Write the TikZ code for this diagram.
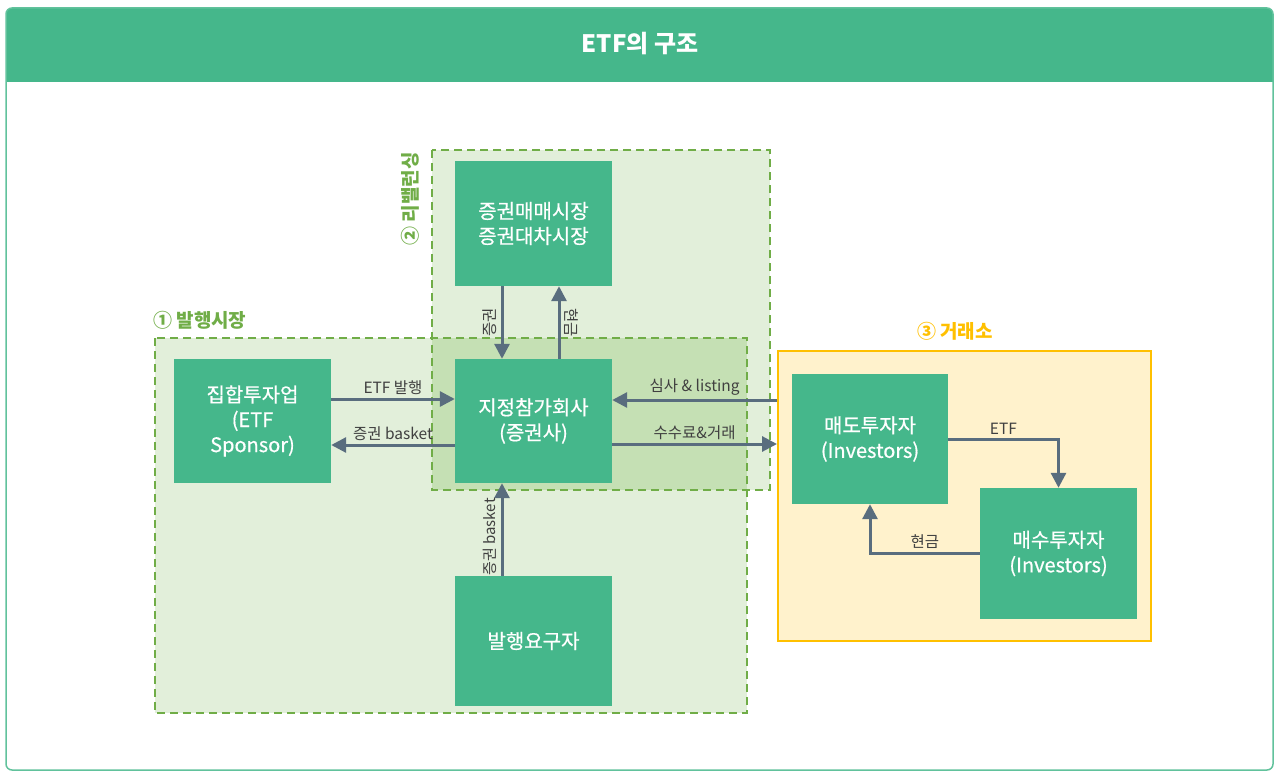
\documentclass[tikz,border=0pt]{standalone}
\usepackage{fontspec}
\setmainfont{Noto Sans CJK KR}
\newfontfamily\medfont[FakeBold=0.6]{Noto Sans CJK KR}
\usetikzlibrary{arrows.meta,calc}
\definecolor{boxgreen}{RGB}{69,183,139}
\definecolor{lightgreen}{RGB}{226,239,218}
\definecolor{midgreen}{RGB}{197,224,180}
\definecolor{dashgreen}{RGB}{112,173,71}
\definecolor{arrowc}{RGB}{89,109,126}
\definecolor{lightyellow}{RGB}{255,242,204}
\definecolor{gold}{RGB}{255,192,0}
\definecolor{labelc}{RGB}{64,64,64}
\begin{document}
\begin{tikzpicture}[x=1pt,y=-1pt,
  box/.style={fill=boxgreen, text=white, font=\medfont\fontsize{20}{25}\selectfont, align=center, inner sep=0pt, minimum width=157pt},
  flow/.style={draw=arrowc, line width=3pt, -{Triangle[length=15pt,width=15pt]}},
  lab/.style={text=labelc, font=\fontsize{15.5}{18}\selectfont, inner sep=1pt},
  rlab/.style={lab, inner sep=4pt},
  region/.style={inner sep=0pt},
  dashb/.style={draw=dashgreen, line width=2pt, dash pattern=on 8pt off 5pt},
  rlabel/.style={font=\fontsize{19}{22}\selectfont\bfseries, inner sep=0pt}]
\useasboundingbox (0,0) rectangle (1276,773);
% frame
\fill[white, rounded corners=6pt] (6,8) rectangle (1273,770);
\fill[boxgreen, rounded corners=6pt] (6,8) rectangle (1273,82);
\fill[boxgreen] (6,50) rectangle (1273,82);
\draw[boxgreen!85, line width=1.5pt, rounded corners=6pt] (6,8) rectangle (1273,770);
\node[text=white, font=\fontsize{24}{28}\selectfont\bfseries] (title) at (640,44) {ETF의 구조};
% regions
\node[region, fill=lightgreen, minimum width=592pt, minimum height=375pt] (issue) at (451,525.5) {};
\node[region, fill=lightgreen, minimum width=338pt, minimum height=340pt] (rebal) at (601,320) {};
\fill[midgreen] (432,338) rectangle (747,490);
\draw[dashb] (155,338) rectangle (747,713);
\draw[dashb] (432,150) rectangle (770,490);
\node[region, fill=lightyellow, draw=gold, line width=2pt, minimum width=373pt, minimum height=290pt] (exch) at (964.5,496) {};
% region labels
\node[rlabel, text=dashgreen, anchor=west] (l1) at (153,320) {① 발행시장};
\node[rlabel, text=dashgreen, rotate=90] (l2) at (410,199) {② 리밸런싱};
\node[rlabel, text=gold] (l3) at (955,331) {③ 거래소};
% boxes
\node[box, minimum height=125pt] (mkt) at (533.5,223.5) {증권매매시장\\증권대차시장};
\node[box, minimum height=124pt] (sponsor) at (252.5,421) {집합투자업\\(ETF\\Sponsor)};
\node[box, minimum height=124pt] (ap) at (533.5,421) {지정참가회사\\(증권사)};
\node[box, minimum height=130pt] (req) at (533.5,641) {발행요구자};
\node[box, minimum width=156pt, minimum height=130pt] (seller) at (870,439) {매도투자자\\(Investors)};
\node[box, minimum height=131pt] (buyer) at (1058.5,553.5) {매수투자자\\(Investors)};
% arrows
\draw[flow] ([yshift=22pt]sponsor.east) -- ([yshift=22pt]ap.west) node[lab, midway, above=2pt] {ETF 발행};
\draw[flow] ([yshift=-24pt]ap.west) -- ([yshift=-24pt]sponsor.east) node[lab, midway, above=2pt] {증권 basket};
\draw[flow] ([xshift=-31.5pt]mkt.south) -- ([xshift=-31.5pt]ap.north) node[rlab, midway, rotate=90, anchor=south] {증권};
\draw[flow] ([xshift=25.5pt]ap.north) -- ([xshift=25.5pt]mkt.south) node[rlab, midway, rotate=-90, anchor=south] {현금};
\coordinate (pl) at ([yshift=21pt]ap.east);
\coordinate (pf) at ([yshift=-23pt]ap.east);
\draw[flow] (exch.west |- pl) -- (pl) node[lab, midway, above=2pt] {심사 \& listing};
\draw[flow] (pf) -- (exch.west |- pf) node[lab, midway, above=2pt] {수수료\&거래};
\draw[flow] ([xshift=-31.5pt]req.north) -- ([xshift=-31.5pt]ap.south) node[rlab, pos=0.42, rotate=90, anchor=south, font=\fontsize{15}{18}\selectfont] {증권 basket};
\draw[flow] (seller.east) -| (buyer.north) node[lab, pos=0.25, above=2pt] {ETF};
\draw[flow] (buyer.west) -| (seller.south) node[lab, pos=0.25, above=2pt] {현금};
\end{tikzpicture}
\end{document}
